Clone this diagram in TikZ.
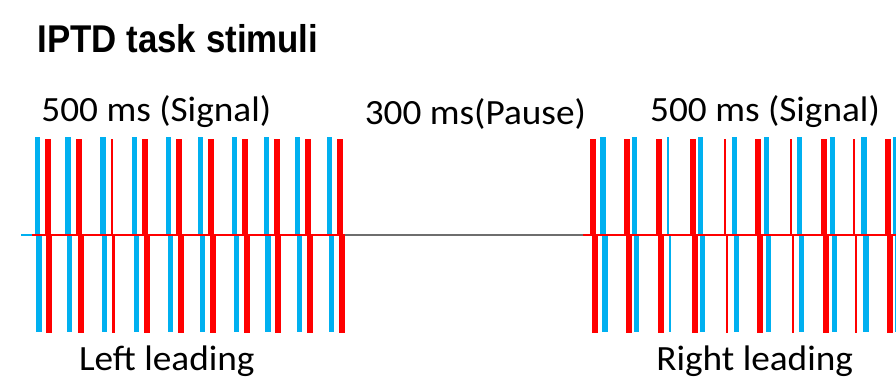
\documentclass[tikz,border=0pt]{standalone}
\usepackage{fontspec}
\setmainfont{Carlito}
\newfontfamily\titlefont{Liberation Sans}
\definecolor{sigblue}{HTML}{00B0F0}
\definecolor{sigred}{HTML}{FF0000}
\definecolor{pausegray}{HTML}{6E6E6E}
\begin{document}
\begin{tikzpicture}[x=1pt,y=-1pt,
  lbl/.style={anchor=base, inner sep=0, outer sep=0, font=\fontsize{35.5}{40}\selectfont, xscale=1.05},
  ttl/.style={anchor=base, inner sep=0, outer sep=0, font=\titlefont\bfseries\fontsize{38.7}{44}\selectfont, xscale=0.9},
  baseln/.style={line width=1.4pt}]
\useasboundingbox (0,0) rectangle (896,379);
\fill[white] (0,0) rectangle (896,379);
% title and labels
\node[ttl] (title) at (178,52.7) {IPTD task stimuli};
\node[lbl] (sigL) at (156.3,121.7) {500 ms (Signal)};
\node[lbl] (pause) at (475.3,124.3) {300 ms(Pause)};
\node[lbl] (sigR) at (765,121.7) {500 ms (Signal)};
\node[lbl] (leftlead) at (166.8,370) {Left leading};
\node[lbl] (rightlead) at (754.7,370) {Right leading};
% left leading pulses: blue first, then red
\foreach \b/\r/\rw in {34.5/44.5/6, 65.2/76.2/6, 100.2/110.5/2.5, 131.8/142.2/6, 165.8/176.2/6,
                       197.8/207.8/6, 231.8/241.8/6, 263.5/273.5/6, 294.8/305.2/6, 326.8/337.2/6}{
  \fill[sigblue] (\b,137) rectangle ++(5.5,98);
  \fill[sigblue] (\b+1.7,235) rectangle ++(5.5,97);
  \fill[sigred] (\r,139) rectangle ++(\rw,96);
  \fill[sigred] (\r+1.8,235) rectangle ++(\rw,98);
}
% right leading pulses: red first, then blue
\foreach \r/\rw/\b/\bw in {590.2/6/600.2/5.5, 623.5/6/631.5/5.5, 655.5/6/666.5/2.6, 689.5/6/697.5/5.5,
                           723.8/2.6/731.5/5.5, 755.2/6/763.5/5.5, 789.8/2.6/796.5/5.5, 821.2/6/829.5/5.5,
                           852.8/2.6/861.2/5.5, 884.5/6/892.5/5.5}{
  \fill[sigred] (\r,139) rectangle ++(\rw,96);
  \fill[sigred] (\r+2,235) rectangle ++(\rw,98);
  \fill[sigblue] (\b,137) rectangle ++(\bw,98);
  \fill[sigblue] (\b+2,235) rectangle ++(\bw,97);
}
% baseline
\coordinate (b0) at (21,235);
\coordinate (b1) at (32,235);
\coordinate (b2) at (345,235);
\coordinate (b3) at (583,235);
\coordinate (b4) at (896,235);
\draw[baseln, sigblue] (b0) -- (b1);
\draw[baseln, sigred] (b1) -- (b2);
\draw[baseln, pausegray] (b2) -- (b3);
\draw[baseln, sigred] (b3) -- (b4);
\end{tikzpicture}
\end{document}
